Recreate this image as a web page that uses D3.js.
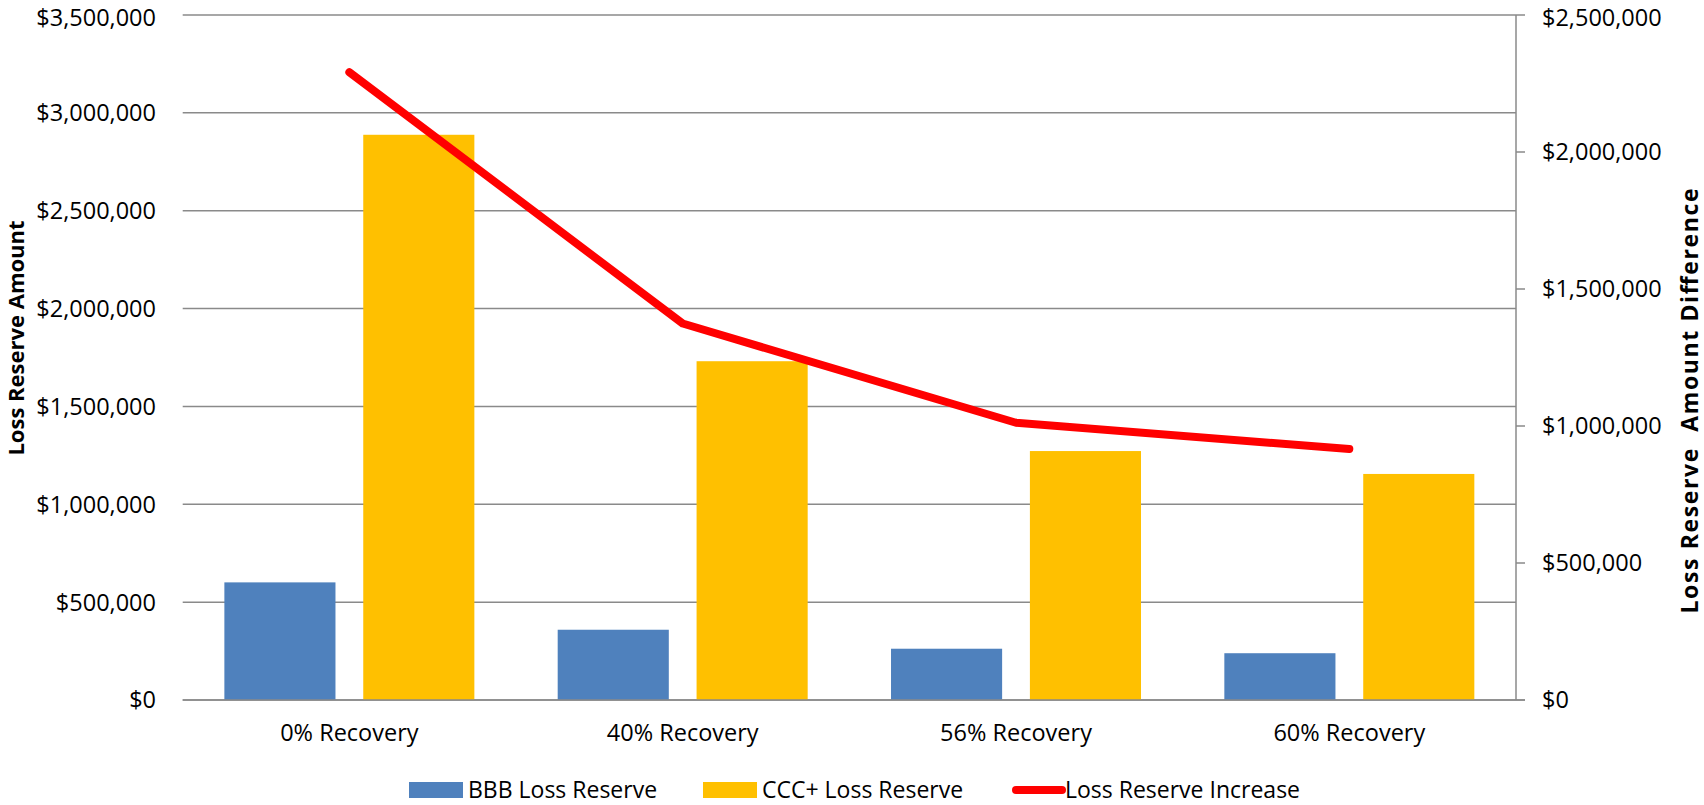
<!DOCTYPE html>
<html>
<head>
<meta charset="utf-8">
<script src="https://cdn.jsdelivr.net/npm/d3@7"></script>
<style>
  html, body { margin: 0; padding: 0; background: #ffffff; }
  svg { display: block; }
  text { font-family: "Open Sans", "Noto Sans", sans-serif; fill: #000; }
</style>
</head>
<body>
<script>
// ---- data ----
const categories = ["0% Recovery", "40% Recovery", "56% Recovery", "60% Recovery"];
const bbbLossReserve = [601000, 359000, 262000, 239000];
const cccLossReserve = [2888000, 1731000, 1272000, 1155000];
const lossReserveIncrease = [2291000, 1374000, 1012000, 916000];
const leftTicks = [0, 500000, 1000000, 1500000, 2000000, 2500000, 3000000, 3500000];
const rightTicks = [0, 500000, 1000000, 1500000, 2000000, 2500000];
const seriesNames = ["BBB Loss Reserve", "CCC+ Loss Reserve", "Loss Reserve Increase"];

// ---- layout ----
const W = 1704, H = 805;
const plot = { left: 182.7, right: 1516, top: 15, bottom: 700 };
const colors = { bbb: "#4F81BD", ccc: "#FFC000", line: "#FF0000", grid: "#8a8a8a" };

const svg = d3.select("body").append("svg").attr("width", W).attr("height", H);
svg.append("rect").attr("width", W).attr("height", H).attr("fill", "#fff");

const x0 = d3.scaleBand().domain(categories).range([plot.left, plot.right])
  .paddingInner(0.25).paddingOuter(0.125);
const x1 = d3.scaleBand().domain(["bbb", "ccc"]).range([0, x0.bandwidth()]).paddingInner(0.2);
const yL = d3.scaleLinear().domain([0, 3500000]).range([plot.bottom, plot.top]);
const yR = d3.scaleLinear().domain([0, 2500000]).range([plot.bottom, plot.top]);
const fmt = d3.format("$,.0f");
const labelY = v => Math.max(v, 17.5); // keep the top labels inside the page

// gridlines (left axis)
svg.append("g").selectAll("line").data(leftTicks).join("line")
  .attr("x1", plot.left).attr("x2", plot.right)
  .attr("y1", d => yL(d)).attr("y2", d => yL(d))
  .attr("stroke", colors.grid).attr("stroke-width", 1.5);

// left tick labels
svg.append("g").selectAll("text").data(leftTicks).join("text")
  .attr("x", 156).attr("y", d => labelY(yL(d))).attr("dy", "0.36em")
  .attr("text-anchor", "end").attr("font-size", "23.5px")
  .text(d => fmt(d));

// bars
const rows = categories.map((c, i) => ({ cat: c, bbb: bbbLossReserve[i], ccc: cccLossReserve[i] }));
const groups = svg.append("g").selectAll("g").data(rows).join("g")
  .attr("transform", d => `translate(${x0(d.cat)},0)`);
groups.selectAll("rect").data(d => [{ k: "bbb", v: d.bbb }, { k: "ccc", v: d.ccc }]).join("rect")
  .attr("x", d => x1(d.k)).attr("width", x1.bandwidth())
  .attr("y", d => yL(d.v)).attr("height", d => yL(0) - yL(d.v))
  .attr("fill", d => colors[d.k]);

// bottom axis line
svg.append("line").attr("x1", plot.left).attr("x2", plot.right + 9)
  .attr("y1", yL(0)).attr("y2", yL(0))
  .attr("stroke", colors.grid).attr("stroke-width", 1.5);

// right axis
svg.append("line").attr("x1", plot.right).attr("x2", plot.right)
  .attr("y1", plot.top).attr("y2", plot.bottom)
  .attr("stroke", colors.grid).attr("stroke-width", 1.5);
svg.append("g").selectAll("line").data(rightTicks).join("line")
  .attr("x1", plot.right).attr("x2", plot.right + 9)
  .attr("y1", d => yR(d)).attr("y2", d => yR(d))
  .attr("stroke", colors.grid).attr("stroke-width", 1.5);
svg.append("g").selectAll("text").data(rightTicks).join("text")
  .attr("x", 1542).attr("y", d => labelY(yR(d))).attr("dy", "0.36em")
  .attr("text-anchor", "start").attr("font-size", "23.5px")
  .text(d => fmt(d));

// x labels
svg.append("g").selectAll("text").data(categories).join("text")
  .attr("x", d => x0(d) + x0.bandwidth() / 2).attr("y", 741)
  .attr("text-anchor", "middle").attr("font-size", "23.5px")
  .text(d => d);

// line series
const line = d3.line()
  .x((d, i) => x0(categories[i]) + x0.bandwidth() / 2)
  .y(d => yR(d));
svg.append("path").datum(lossReserveIncrease)
  .attr("d", line).attr("fill", "none")
  .attr("stroke", colors.line).attr("stroke-width", 8)
  .attr("stroke-linecap", "round").attr("stroke-linejoin", "round");

// axis titles
svg.append("text")
  .attr("transform", "translate(24,338) rotate(-90)")
  .attr("text-anchor", "middle").attr("font-size", "22px").attr("font-weight", "bold")
  .text("Loss Reserve Amount");
svg.append("text")
  .attr("transform", "translate(1698,401) rotate(-90)")
  .attr("text-anchor", "middle").attr("font-size", "23px").attr("font-weight", "bold")
  .attr("textLength", 425).attr("lengthAdjust", "spacing")
  .style("white-space", "pre")
  .text("Loss Reserve  Amount Difference");

// legend
const legendY = 790;
const legendItems = [
  { name: seriesNames[0], type: "rect", color: colors.bbb, x: 409 },
  { name: seriesNames[1], type: "rect", color: colors.ccc, x: 703 },
  { name: seriesNames[2], type: "line", color: colors.line, x: 1012 }
];
const lg = svg.append("g").selectAll("g").data(legendItems).join("g")
  .attr("transform", d => `translate(${d.x},${legendY})`);
lg.filter(d => d.type === "rect").append("rect")
  .attr("x", 0).attr("y", -8).attr("width", 54).attr("height", 16)
  .attr("fill", d => d.color);
lg.filter(d => d.type === "line").append("line")
  .attr("x1", 4).attr("x2", 50).attr("y1", 0).attr("y2", 0)
  .attr("stroke", d => d.color).attr("stroke-width", 8).attr("stroke-linecap", "round");
lg.append("text")
  .attr("x", d => d.type === "rect" ? 59 : 53).attr("y", 0).attr("dy", "0.36em")
  .attr("font-size", "23px")
  .text(d => d.name);
</script>
</body>
</html>
